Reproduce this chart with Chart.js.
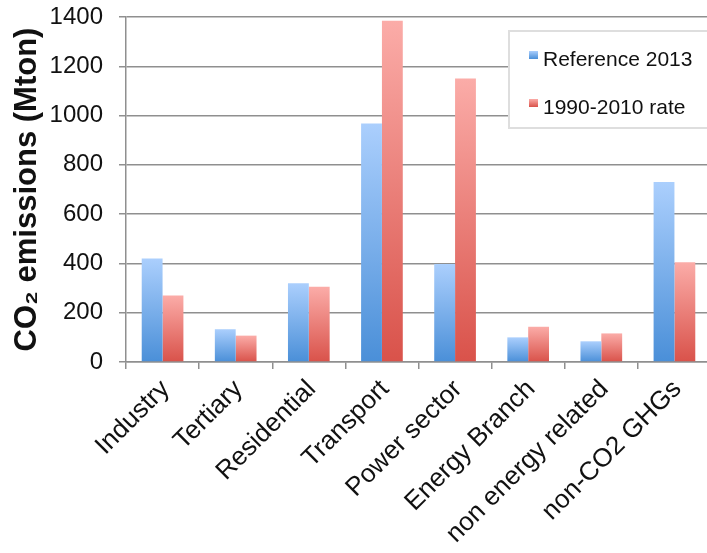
<!DOCTYPE html>
<html>
<head>
<meta charset="utf-8">
<script src="https://cdn.jsdelivr.net/npm/chart.js@4.4.1/dist/chart.umd.min.js"></script>
<style>
    html, body { margin: 0; padding: 0; background: #fff; overflow: hidden; }
    #wrap { width: 712px; height: 553px; }
</style>
</head>
<body>
<div id="wrap"><canvas id="chartEmissoes" width="712" height="553"></canvas></div>
<script>
// Dados
const categorias = ['Industry', 'Tertiary', 'Residential', 'Transport', 'Power sector', 'Energy Branch', 'non energy related', 'non-CO2 GHGs'];
const referencia2013 = [420, 133, 320, 968, 398, 100, 84, 730];
const taxa1990_2010 = [270, 107, 305, 1385, 1150, 143, 116, 405];
const ticksY = [0, 200, 400, 600, 800, 1000, 1200, 1400];

const FONTE = '"Liberation Sans", Arial, Helvetica, sans-serif';
const CINZA = '#8f8f8f';
const AZUL = ['#abcffd', '#4a8fd8'];
const VERMELHO = ['#fbaca8', '#d9524a'];

// Degradê vertical por barra (claro em cima, escuro embaixo)
function degrade(cores) {
    return function(ctx) {
        const chart = ctx.chart;
        if (!chart.chartArea || ctx.type !== 'data') return cores[1];
        const y = chart.scales.y;
        const topo = y.getPixelForValue(ctx.raw);
        const base = y.getPixelForValue(0);
        if (!isFinite(topo) || !isFinite(base) || topo === base) return cores[1];
        const g = chart.ctx.createLinearGradient(0, topo, 0, base);
        g.addColorStop(0, cores[0]);
        g.addColorStop(1, cores[1]);
        return g;
    };
}

// Legenda desenhada dentro da área do gráfico, com caixa
const legendaCaixa = {
    id: 'legendaCaixa',
    afterDraw(chart) {
        const c = chart.ctx;
        const area = chart.chartArea;
        const x0 = area.left + 383;
        const y0 = area.top + 14;
        c.save();
        c.fillStyle = '#fff';
        c.fillRect(x0, y0, 260, 97);
        c.strokeStyle = '#dedede';
        c.lineWidth = 2;
        c.strokeRect(x0, y0, 260, 97);
        chart.data.datasets.forEach((ds, i) => {
            const cores = ds.cores;
            const sy = y0 + 20 + i * 48;
            const g = c.createLinearGradient(0, sy, 0, sy + 8);
            g.addColorStop(0, cores[0]);
            g.addColorStop(1, cores[1]);
            c.fillStyle = g;
            c.fillRect(x0 + 20, sy, 9, 8);
            c.fillStyle = '#111';
            c.font = '21px ' + FONTE;
            c.textBaseline = 'alphabetic';
            c.textAlign = 'left';
            c.fillText(ds.label, x0 + 34, sy + 14.5);
        });
        c.restore();
    }
};

const ctxEmissoes = document.getElementById('chartEmissoes').getContext('2d');
new Chart(ctxEmissoes, {
    type: 'bar',
    data: {
        labels: categorias,
        datasets: [
            {
                label: 'Reference 2013',
                data: referencia2013,
                cores: AZUL,
                backgroundColor: degrade(AZUL),
                borderWidth: 0
            },
            {
                label: '1990-2010 rate',
                data: taxa1990_2010,
                cores: VERMELHO,
                backgroundColor: degrade(VERMELHO),
                borderWidth: 0
            }
        ]
    },
    options: {
        responsive: false,
        animation: false,
        layout: { padding: { left: 0, top: 17, right: 1, bottom: 0 } },
        datasets: {
            bar: { categoryPercentage: 0.57, barPercentage: 1.0 }
        },
        plugins: {
            legend: { display: false },
            tooltip: { enabled: false }
        },
        scales: {
            x: {
                grid: { drawOnChartArea: false, drawTicks: true, tickLength: 7, color: CINZA, lineWidth: 1.5 },
                border: { color: CINZA, width: 1.5 },
                ticks: {
                    color: '#111',
                    font: { family: FONTE, size: 26 },
                    minRotation: 45,
                    maxRotation: 45,
                    padding: 5,
                    labelOffset: 3,
                    autoSkip: false
                },
                afterFit(scale) { scale.height = 191; }
            },
            y: {
                min: 0,
                max: 1400,
                afterBuildTicks(scale) { scale.ticks = ticksY.map(v => ({ value: v })); },
                grid: { color: CINZA, lineWidth: 1.5, tickLength: 7 },
                border: { color: CINZA, width: 1.5 },
                ticks: {
                    color: '#111',
                    font: { family: FONTE, size: 24 },
                    padding: 16,
                    callback: v => String(v)
                },
                title: {
                    display: true,
                    text: 'CO\u2082 emissions (Mton)',
                    color: '#111',
                    font: { family: FONTE, size: 31, weight: 'bold', lineHeight: 1.0 },
                    padding: { top: 12, bottom: 0 }
                },
                afterFit(scale) {
                    scale.width = 126;
                    // o padding dos rótulos empurrava a área do gráfico para baixo
                    scale.paddingTop = 10;
                    scale.paddingBottom = 10;
                }
            }
        }
    },
    plugins: [legendaCaixa]
});
</script>
</body>
</html>
